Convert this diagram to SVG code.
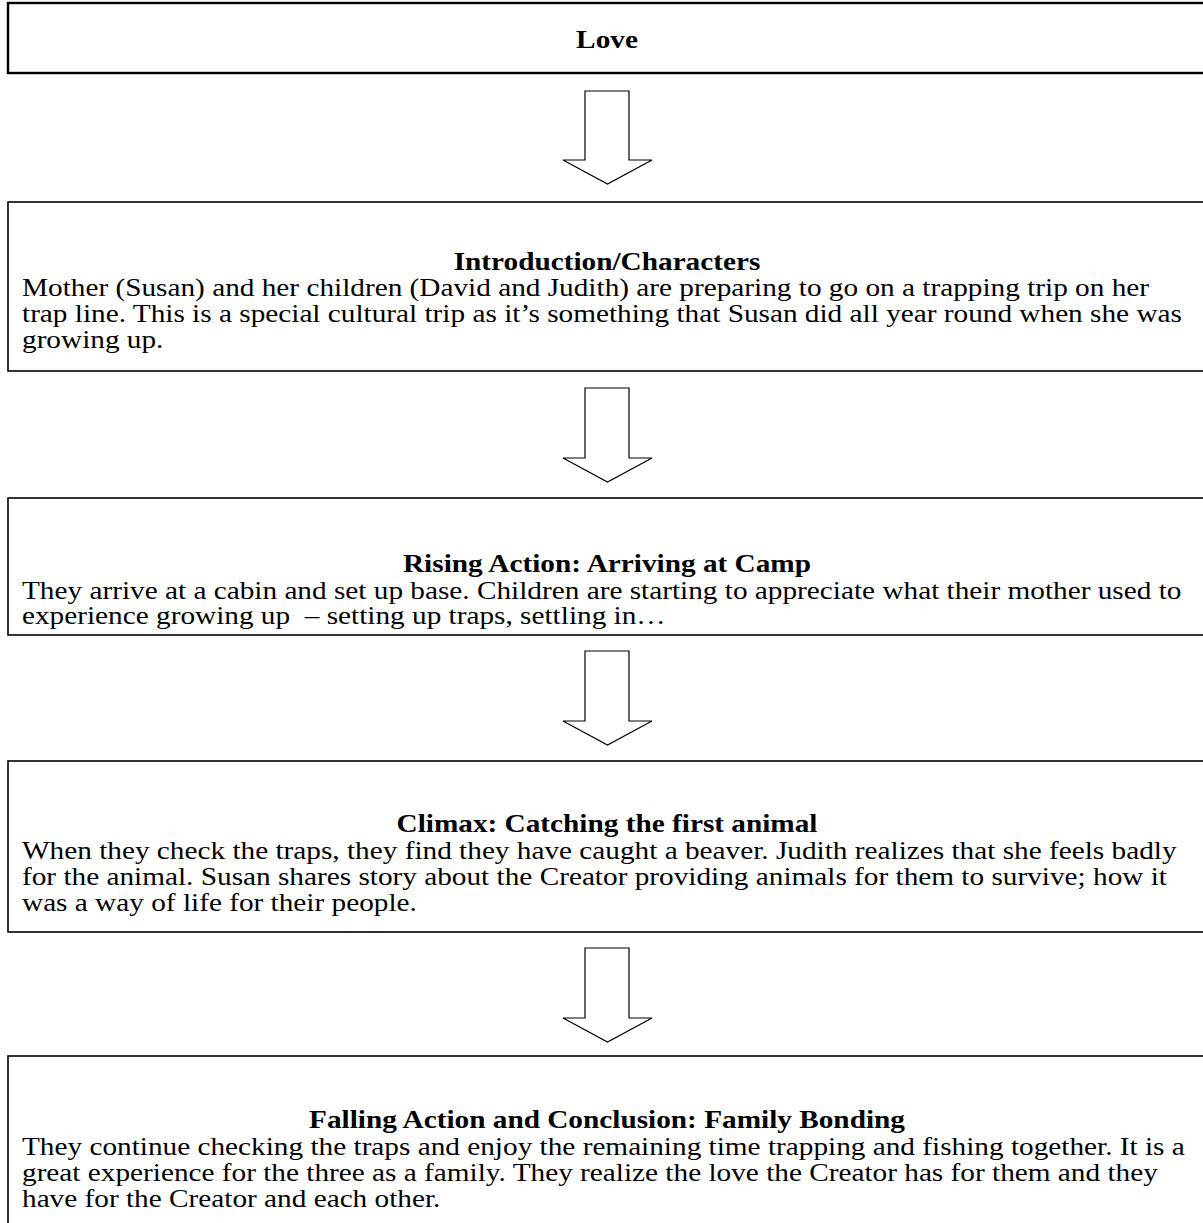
<svg xmlns="http://www.w3.org/2000/svg" width="1203" height="1223" viewBox="0 0 1203 1223">
<style>
.box{fill:#fff;stroke:#000;stroke-width:1.6}
.top{fill:#fff;stroke:#000;stroke-width:2.4}
.arr{fill:#fff;stroke:#000;stroke-width:1.2;stroke-linejoin:miter}
text{font-family:"Liberation Serif","Times New Roman",serif;font-size:26px;fill:#000;white-space:pre}
.t{font-weight:bold;text-anchor:middle}
</style>
<rect width="1203" height="1223" fill="#fff"/>
<g id="connectors">
<path class="arr" d="M585,91 H629 V160 H652 L607.5,184 L563,160 H585 Z"/>
<path class="arr" d="M585,388 H629 V458 H652 L607.5,482 L563,458 H585 Z"/>
<path class="arr" d="M585,651 H629 V721 H652 L607.5,745 L563,721 H585 Z"/>
<path class="arr" d="M585,948 H629 V1018 H652 L607.5,1042 L563,1018 H585 Z"/>
</g>
<g id="love">
<rect class="top" x="8" y="3" width="1200" height="70"/>
<text class="t" transform="translate(607,48) scale(1.126,1)">Love</text>
</g>
<g id="intro">
<rect class="box" x="8" y="202" width="1200" height="169"/>
<text class="t" transform="translate(607,270) scale(1.126,1)">Introduction/Characters</text>
<text transform="translate(22,296) scale(1.126,1)">Mother (Susan) and her children (David and Judith) are preparing to go on a trapping trip on her</text>
<text transform="translate(22,322) scale(1.126,1)">trap line. This is a special cultural trip as it’s something that Susan did all year round when she was</text>
<text transform="translate(22,348) scale(1.126,1)">growing up.</text>
</g>
<g id="rising">
<rect class="box" x="8" y="498" width="1200" height="137"/>
<text class="t" transform="translate(607,572) scale(1.126,1)">Rising Action: Arriving at Camp</text>
<text transform="translate(22,599) scale(1.126,1)">They arrive at a cabin and set up base. Children are starting to appreciate what their mother used to</text>
<text transform="translate(22,624) scale(1.126,1)" xml:space="preserve">experience growing up  – setting up traps, settling in…</text>
</g>
<g id="climax">
<rect class="box" x="8" y="761" width="1200" height="171"/>
<text class="t" transform="translate(607,832) scale(1.126,1)">Climax: Catching the first animal</text>
<text transform="translate(22,859) scale(1.126,1)">When they check the traps, they find they have caught a beaver. Judith realizes that she feels badly</text>
<text transform="translate(22,885) scale(1.126,1)">for the animal. Susan shares story about the Creator providing animals for them to survive; how it</text>
<text transform="translate(22,911) scale(1.126,1)">was a way of life for their people.</text>
</g>
<g id="falling">
<rect class="box" x="8" y="1056" width="1200" height="190"/>
<text class="t" transform="translate(607,1128) scale(1.126,1)">Falling Action and Conclusion: Family Bonding</text>
<text transform="translate(22,1155) scale(1.126,1)">They continue checking the traps and enjoy the remaining time trapping and fishing together. It is a</text>
<text transform="translate(22,1181) scale(1.126,1)">great experience for the three as a family. They realize the love the Creator has for them and they</text>
<text transform="translate(22,1207) scale(1.126,1)">have for the Creator and each other.</text>
</g>
</svg>
